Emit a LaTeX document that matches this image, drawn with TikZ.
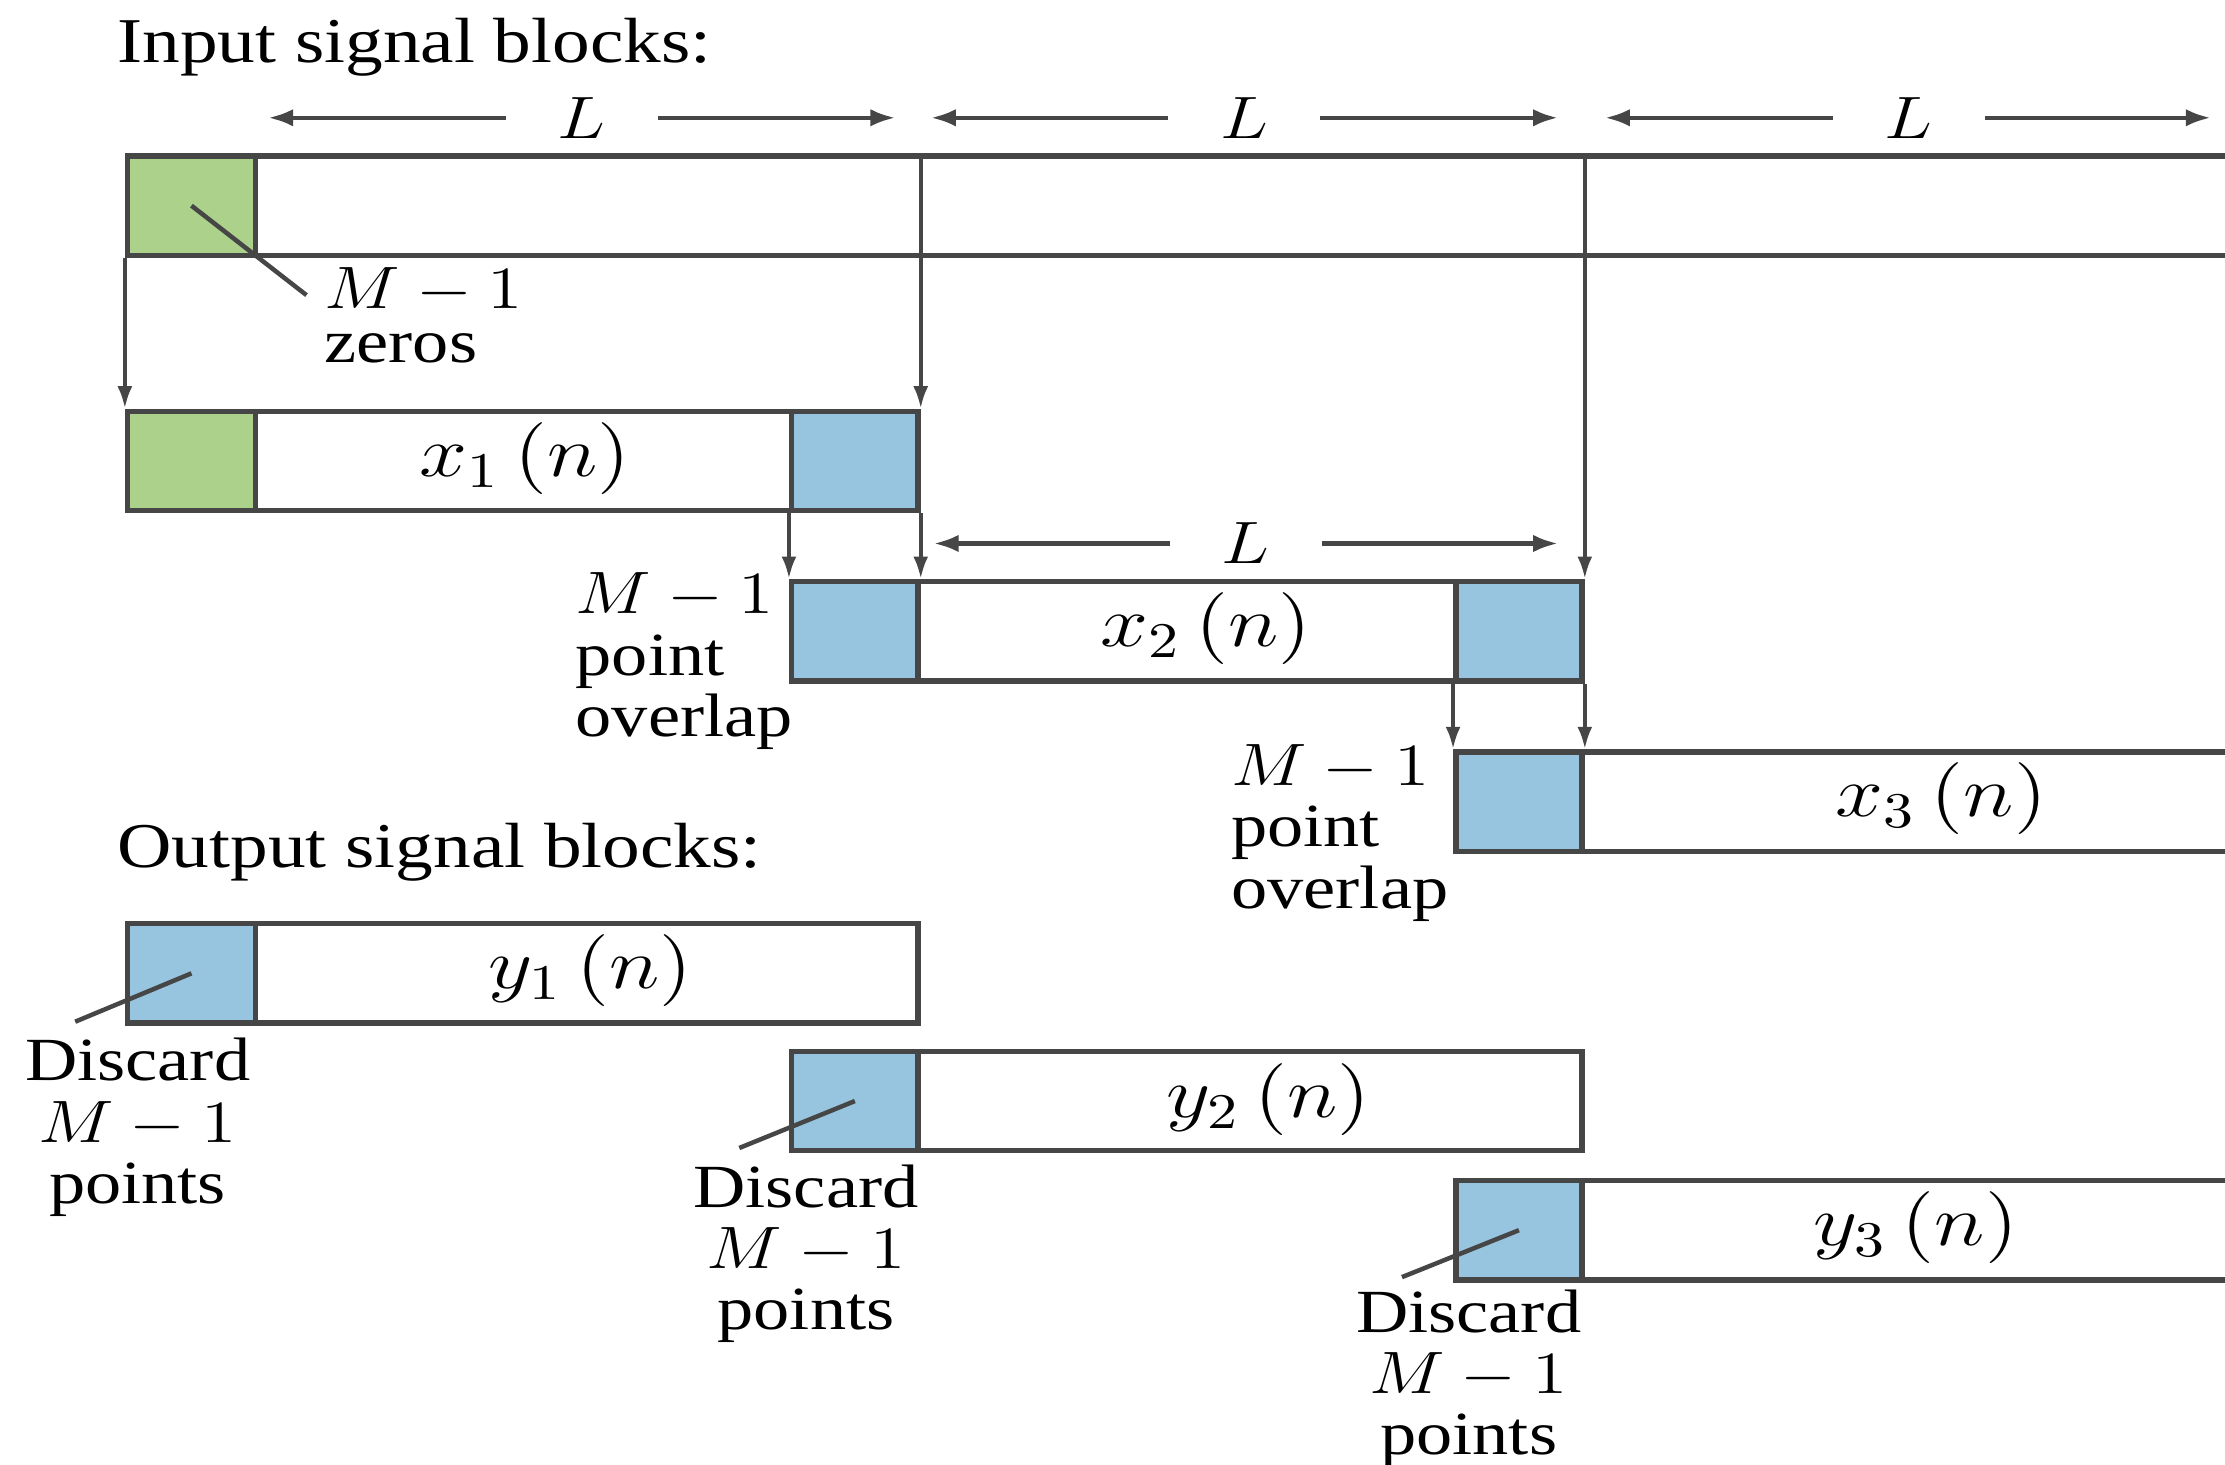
\documentclass[tikz,border=0pt]{standalone}
\usepackage{fontspec}
\usepackage{graphicx}
\setmainfont{Liberation Serif}
\newfontfamily\labfont[FakeStretch=1.18]{Liberation Serif}
\usetikzlibrary{arrows.meta}
\definecolor{gfill}{RGB}{171,209,139}
\definecolor{bfill}{RGB}{151,196,222}
\definecolor{edgecol}{RGB}{70,70,70}
\newcommand\wm[1]{\scalebox{1.2}[1]{$#1$}}
\begin{document}
\begin{tikzpicture}[x=0.1mm,y=-0.1mm,
  box/.style={draw=edgecol, line width=1.1pt, fill=white, rectangle, inner sep=0pt, anchor=north west, minimum height=7mm},
  gsq/.style={box, fill=gfill, minimum width=9mm},
  bsq/.style={box, fill=bfill, minimum width=8.9mm},
  conn/.style={draw=edgecol, line width=0.8pt, -{Latex[length=4.5pt,width=3pt]}},
  dimarr/.style={draw=edgecol, line width=0.9pt, -{Latex[length=5pt,width=3.5pt]}},
  lead/.style={draw=edgecol, line width=0.9pt},
  dimlab/.style={font=\fontsize{13}{15}\selectfont, inner ysep=0pt, inner xsep=3.6mm},
  lab/.style={font=\fontsize{12.3}{12.3}\selectfont\labfont, inner sep=0pt},
  zlab/.style={font=\fontsize{12.3}{10.8}\selectfont\labfont, inner sep=0pt},
  sig/.style={font=\fontsize{14.5}{16}\selectfont, inner sep=0pt},
  head/.style={font=\fontsize{12.8}{15}\selectfont\labfont, inner sep=0pt, anchor=base west}
]
\clip (0,0) rectangle (1568,1032);
\fill[white] (0,0) rectangle (1568,1032);

% headings
\node[head] (hin) at (82,44) {Input signal blocks:};
\node[head] (hout) at (82,611) {Output signal blocks:};

% input signal (top bar)
\node[box, minimum width=152mm] (top) at (88,108) {};
\node[gsq] (tz) at (88,108) {};

% x1
\node[box, minimum width=55.7mm] (x1) at (88,288) {};
\node[gsq] (x1g) at (88,288) {};
\node[bsq] (x1b) at (556,288) {};
\node[sig] (x1l) at (370,323) {\wm{x_1\,(n)}};

% x2
\node[box, minimum width=55.7mm] (x2) at (556,408) {};
\node[bsq] (x2a) at (556,408) {};
\node[bsq] (x2b) at (1024,408) {};
\node[sig] (x2l) at (850,443) {\wm{x_2\,(n)}};

% x3
\node[box, minimum width=60mm] (x3) at (1024,528) {};
\node[bsq] (x3a) at (1024,528) {};
\node[sig] (x3l) at (1368,563) {\wm{x_3\,(n)}};

% y1
\node[box, minimum width=55.7mm] (y1) at (88,649) {};
\node[bsq, minimum width=9mm] (y1b) at (88,649) {};
\node[sig] (y1l) at (416,684) {\wm{y_1\,(n)}};

% y2
\node[box, minimum width=55.7mm] (y2) at (556,739) {};
\node[bsq] (y2b) at (556,739) {};
\node[sig] (y2l) at (894,775) {\wm{y_2\,(n)}};

% y3
\node[box, minimum width=60mm] (y3) at (1024,830) {};
\node[bsq] (y3b) at (1024,830) {};
\node[sig] (y3l) at (1350,865) {\wm{y_3\,(n)}};

% vertical connectors
\draw[conn] (top.south west) -- (x1.north west);
\draw[conn] (top.north west -| x1.north east) -- (x1.north east);
\draw[conn] (x1b.south west) -- (x2.north west);
\draw[conn] (x1b.south east) -- (x2a.north east);
\draw[conn] (top.north west -| x2.north east) -- (x2.north east);
\draw[conn] (x2b.south west) -- (x3.north west);
\draw[conn] (x2b.south east) -- (x3a.north east);

% dimension arrows
\node[dimlab] (L1) at (410,83) {\wm{L}};
\coordinate (L1l) at (189,83); \coordinate (L1r) at (631,83);
\draw[dimarr] (L1) -- (L1l); \draw[dimarr] (L1) -- (L1r);
\node[dimlab] (L2) at (877,83) {\wm{L}};
\coordinate (L2l) at (656,83); \coordinate (L2r) at (1098,83);
\draw[dimarr] (L2) -- (L2l); \draw[dimarr] (L2) -- (L2r);
\node[dimlab] (L3) at (1345,83) {\wm{L}};
\coordinate (L3l) at (1131,83); \coordinate (L3r) at (1558,83);
\draw[dimarr] (L3) -- (L3l); \draw[dimarr] (L3) -- (L3r);
\node[dimlab] (L4) at (878,383) {\wm{L}};
\coordinate (L4l) at (658,383); \coordinate (L4r) at (1098,383);
\draw[dimarr] (L4) -- (L4l); \draw[dimarr] (L4) -- (L4r);

% zeros label
\node[zlab, anchor=north west, align=left] (zl) at (228,188) {\wm{M-1}\\zeros};
\coordinate (ez) at (216,208);
\draw[lead] (tz.center) -- (ez);

% overlap labels
\node[lab, anchor=north west, align=left] (ov1) at (405,403) {\wm{M-1}\\point\\overlap};
\node[lab, anchor=north west, align=left] (ov2) at (867,524) {\wm{M-1}\\point\\overlap};

% discard labels
\node[lab, anchor=north, align=center] (d1) at (97,731) {Discard\\\wm{M-1}\\points};
\node[lab, anchor=north, align=center] (d2) at (568,820) {Discard\\\wm{M-1}\\points};
\node[lab, anchor=north, align=center] (d3) at (1035,908) {Discard\\\wm{M-1}\\points};
\coordinate (e1) at (53,720);
\coordinate (e2) at (521,809);
\coordinate (e3) at (988,900);
\draw[lead] (y1b.center) -- (e1);
\draw[lead] (y2b.center) -- (e2);
\draw[lead] (y3b.center) -- (e3);
\end{tikzpicture}
\end{document}
